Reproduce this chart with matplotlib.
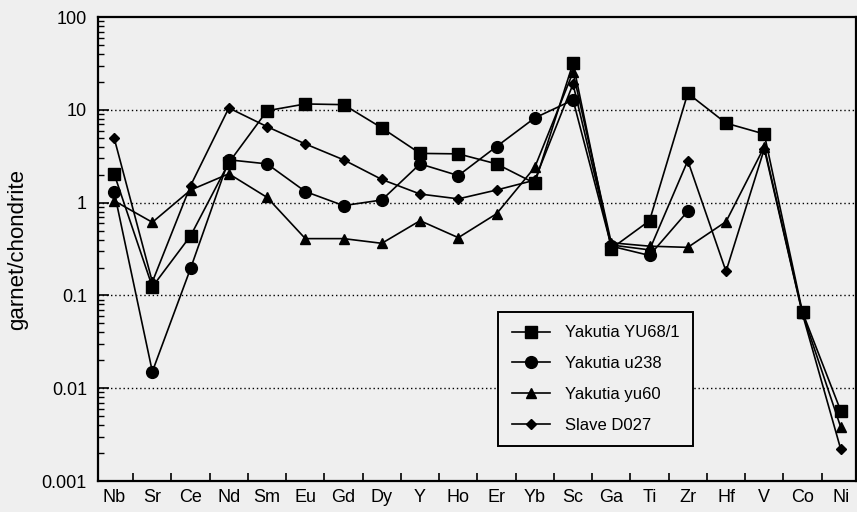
import numpy as np
import matplotlib
matplotlib.use("Agg")
import matplotlib.pyplot as plt
from matplotlib.ticker import LogLocator, NullFormatter, FixedLocator

elements = ["Nb", "Sr", "Ce", "Nd", "Sm", "Eu", "Gd", "Dy", "Y", "Ho", "Er", "Yb",
            "Sc", "Ga", "Ti", "Zr", "Hf", "V", "Co", "Ni"]
nan = np.nan
yu68_1 = [2.05, 0.124, 0.44, 2.7, 9.8, 11.6, 11.4, 6.4, 3.4, 3.36, 2.62, 1.62,
          32.0, 0.32, 0.64, 15.1, 7.2, 5.5, 0.066, 0.0057]
u238 = [1.32, 0.0151, 0.196, 2.9, 2.62, 1.32, 0.93, 1.07, 2.62, 1.96, 4.03, 8.2,
        12.8, 0.34, 0.27, 0.81, nan, nan, nan, nan]
yu60 = [1.05, 0.615, 1.37, 2.05, 1.14, 0.41, 0.41, 0.365, 0.64, 0.42, 0.76, 2.41,
        25.5, 0.37, 0.34, 0.33, 0.625, 4.0, 0.064, 0.0038]
d027 = [5.0, 0.14, 1.53, 10.5, 6.6, 4.3, 2.9, 1.78, 1.24, 1.1, 1.37, 1.75,
        19.0, 0.35, 0.31, 2.84, 0.182, 3.8, 0.063, 0.0022]

series = [
    ("Yakutia YU68/1", yu68_1, "s", 8),
    ("Yakutia u238", u238, "o", 8.5),
    ("Yakutia yu60", yu60, "^", 7),
    ("Slave D027", d027, "D", 5),
]

plt.rcParams["font.family"] = ["Liberation Sans", "DejaVu Sans"]
fig = plt.figure(figsize=(8.57, 5.12), dpi=100)
bg = "#efefef"
fig.patch.set_facecolor(bg)
ax = fig.add_axes([0.1144, 0.0605, 0.8845, 0.906])
ax.set_facecolor(bg)

x = np.arange(len(elements))
for name, vals, mk, ms in series:
    ax.plot(x, vals, color="black", lw=1.2, marker=mk, ms=ms,
            markerfacecolor="black", markeredgecolor="black", label=name)

ax.set_yscale("log")
ax.set_ylim(0.001, 100)
ax.set_xlim(-0.42, 19.4)

ax.set_xticks(x)
ax.set_xticklabels(elements, fontsize=13)
ax.xaxis.set_minor_locator(FixedLocator(np.arange(len(elements) - 1) + 0.5))
ax.tick_params(axis="x", which="major", length=0, pad=6)
ax.tick_params(axis="x", which="minor", direction="in", length=6, width=1.2)

ax.set_yticks([0.001, 0.01, 0.1, 1, 10, 100])
ax.set_yticklabels(["0.001", "0.01", "0.1", "1", "10", "100"], fontsize=13)
ax.yaxis.set_minor_locator(LogLocator(base=10, subs=np.arange(2, 10)))
ax.yaxis.set_minor_formatter(NullFormatter())
ax.tick_params(axis="y", which="major", direction="in", length=8, width=1.2, pad=8)
ax.tick_params(axis="y", which="minor", direction="in", length=4, width=1.0)
ax.tick_params(right=False, top=False)

for v in [0.01, 0.1, 1, 10]:
    ax.axhline(v, color="black", lw=1.0, ls=(0, (1, 2)), zorder=0)

for s in ax.spines.values():
    s.set_linewidth(1.6)

ax.set_ylabel("garnet/chondrite", fontsize=16, labelpad=10)

leg = ax.legend(loc="lower left", bbox_to_anchor=(0.528, 0.075),
                fontsize=12, frameon=True, fancybox=False,
                edgecolor="black", facecolor=bg, framealpha=1.0,
                handlelength=2.3, handletextpad=0.9, borderpad=0.8,
                labelspacing=0.95, borderaxespad=0)
leg.get_frame().set_linewidth(1.4)

fig.savefig("out.png", dpi=100, facecolor=bg)
